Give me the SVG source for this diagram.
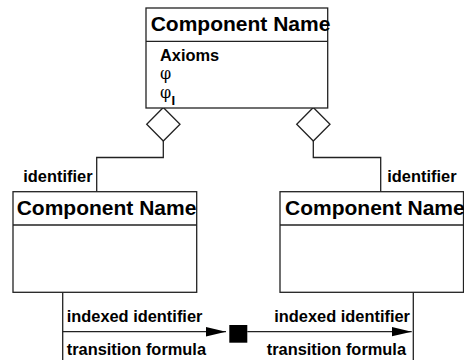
<svg xmlns="http://www.w3.org/2000/svg" width="464" height="360" viewBox="0 0 464 360">
<defs>
<style>
.box{fill:#fff;stroke:#222;stroke-width:1.3}
.ln{fill:none;stroke:#222;stroke-width:1.3}
.hd{font-family:"Liberation Sans",Arial,sans-serif;font-weight:bold;font-size:21px;fill:#000}
.lb{font-family:"Liberation Sans",Arial,sans-serif;font-weight:bold;font-size:16.4px;fill:#000}
.sym{font-family:"DejaVu Serif","Liberation Serif",serif;font-size:16px;fill:#000}
</style>
<marker id="arr" viewBox="0 0 20 10" refX="20" refY="5" markerWidth="20" markerHeight="10" markerUnits="userSpaceOnUse" orient="auto">
<path d="M0,0.3 L20,5 L0,9.7 Z" fill="#000"/>
</marker>
</defs>
<rect width="464" height="360" fill="#fff"/>
<g id="connectors">
<polygon class="ln" points="163.3,107.5 180,124.3 163.3,141 146.7,124.3"/>
<polygon class="ln" points="313.3,107.5 330,124.3 313.3,141 296.7,124.3"/>
<polyline class="ln" points="163.3,141 163.3,157.5 96.7,157.5 96.7,191.7"/>
<polyline class="ln" points="313.3,141 313.3,157.5 380.7,157.5 380.7,191.7"/>
<text class="lb" x="23.3" y="182">identifier</text>
<text class="lb" x="387.3" y="182">identifier</text>
<line class="ln" x1="62.7" y1="292.3" x2="62.7" y2="360"/>
<line class="ln" x1="413.3" y1="292.3" x2="413.3" y2="360"/>
<line class="ln" x1="62.7" y1="331.7" x2="226" y2="331.7" marker-end="url(#arr)"/>
<line class="ln" x1="247.3" y1="331.7" x2="411.7" y2="331.7" marker-end="url(#arr)"/>
<rect x="229.3" y="325" width="18" height="17.7" fill="#000"/>
<text class="lb" x="66.7" y="322">indexed identifier</text>
<text class="lb" x="66.7" y="355">transition formula</text>
<text class="lb" x="274.3" y="322">indexed identifier</text>
<text class="lb" x="266.7" y="355">transition formula</text>
</g>
<g id="top">
<rect class="box" x="146" y="8" width="181.7" height="100"/>
<line class="ln" x1="146" y1="41.3" x2="327.7" y2="41.3"/>
<text class="hd" x="150.7" y="30.5">Component Name</text>
<text class="lb" x="160" y="60.5">Axioms</text>
<text class="sym" x="160" y="79">φ</text>
<text class="sym" x="160" y="98">φ</text>
<text class="lb" x="171.5" y="104.5" style="font-size:13px">I</text>
</g>
<g id="left">
<rect class="box" x="13" y="191.7" width="183.7" height="100.6"/>
<line class="ln" x1="13" y1="225" x2="196.7" y2="225"/>
<text class="hd" x="16.7" y="215">Component Name</text>
</g>
<g id="right">
<rect class="box" x="280" y="191.7" width="183.5" height="100.6"/>
<line class="ln" x1="280" y1="225" x2="463.5" y2="225"/>
<text class="hd" x="285" y="215">Component Name</text>
</g>
</svg>
